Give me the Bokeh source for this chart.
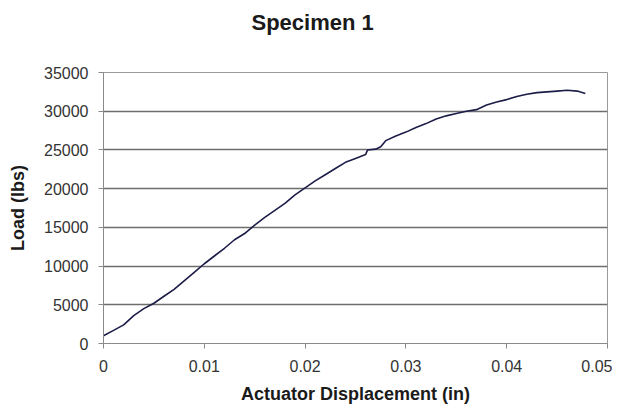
from bokeh.plotting import figure
from bokeh.models import FixedTicker, Range1d, Title
from bokeh.embed import file_html
from bokeh.resources import INLINE

displacement = [0.0, 0.001, 0.002, 0.003, 0.004, 0.005, 0.006, 0.007, 0.008, 0.009,
                0.010, 0.011, 0.012, 0.013, 0.014, 0.015, 0.016, 0.017, 0.018, 0.019,
                0.020, 0.021, 0.022, 0.023, 0.024, 0.025, 0.026, 0.0262, 0.027, 0.0275,
                0.028, 0.029, 0.030, 0.031, 0.032, 0.033, 0.034, 0.035, 0.036, 0.037,
                0.038, 0.039, 0.040, 0.041, 0.042, 0.043, 0.044, 0.045, 0.046, 0.047, 0.0478]
load = [1000, 1700, 2400, 3600, 4500, 5200, 6100, 7000, 8100, 9200,
        10300, 11300, 12300, 13400, 14200, 15300, 16300, 17200, 18100, 19200,
        20100, 21000, 21800, 22600, 23400, 23900, 24400, 25000, 25100, 25400,
        26200, 26800, 27300, 27900, 28400, 29000, 29400, 29700, 30000, 30200,
        30800, 31200, 31500, 31900, 32200, 32400, 32500, 32600, 32700, 32600, 32300]

x_ticks = [0.0, 0.01, 0.02, 0.03, 0.04, 0.05]
x_tick_labels = ["0", "0.01", "0.02", "0.03", "0.04", "0.05"]
y_ticks = [0, 5000, 10000, 15000, 20000, 25000, 30000, 35000]
y_tick_labels = ["0", "5000", "10000", "15000", "20000", "25000", "30000", "35000"]

FONT = "Liberation Sans"

p = figure(width=612, height=407, output_backend="svg", toolbar_location=None,
           x_range=Range1d(0, 0.05), y_range=Range1d(0, 35000),
           min_border_left=103, min_border_right=5, min_border_top=72, min_border_bottom=64,
           title="Specimen 1")

p.title.text_font = FONT
p.title.text_font_size = "22px"
p.title.text_font_style = "bold"
p.title.text_color = "#1a1a1a"
p.title.align = "left"
p.title.offset = 148
p.title.standoff = 0

# blank spacer between title and plot area
p.add_layout(Title(text=" ", text_font=FONT, text_font_size="20px", standoff=14), "above")

p.line(displacement, load, line_color="#1c1c48", line_width=1.6)

p.xaxis.ticker = FixedTicker(ticks=x_ticks)
p.yaxis.ticker = FixedTicker(ticks=y_ticks)
p.xaxis.major_label_overrides = dict(zip(x_ticks, x_tick_labels))
p.yaxis.major_label_overrides = dict(zip(y_ticks, y_tick_labels))

for ax in (p.xaxis, p.yaxis):
    ax.axis_line_color = "#8a8a8a"
    ax.major_tick_line_color = "#8a8a8a"
    ax.major_tick_out = 5
    ax.major_tick_in = 0
    ax.minor_tick_line_color = None
    ax.major_label_text_font = FONT
    ax.major_label_text_font_size = "16px"
    ax.major_label_text_color = "#333333"
    ax.axis_label_text_font = FONT
    ax.axis_label_text_font_size = "18px"
    ax.axis_label_text_font_style = "bold"
    ax.axis_label_text_color = "#1a1a1a"

p.xaxis.axis_label = "Actuator Displacement (in)"
p.yaxis.axis_label = "Load (lbs)"
p.xaxis.major_label_standoff = 11
p.yaxis.major_label_standoff = 10
p.xaxis.axis_label_standoff = 9
p.yaxis.axis_label_standoff = 13

p.xgrid.grid_line_color = None
p.ygrid.grid_line_color = "#6e6e6e"
p.ygrid.grid_line_width = 1.4

p.outline_line_color = "#9a9a9a"
p.outline_line_width = 1
p.background_fill_color = "white"
p.border_fill_color = "white"

open("out.html", "w").write(file_html(p, INLINE))
